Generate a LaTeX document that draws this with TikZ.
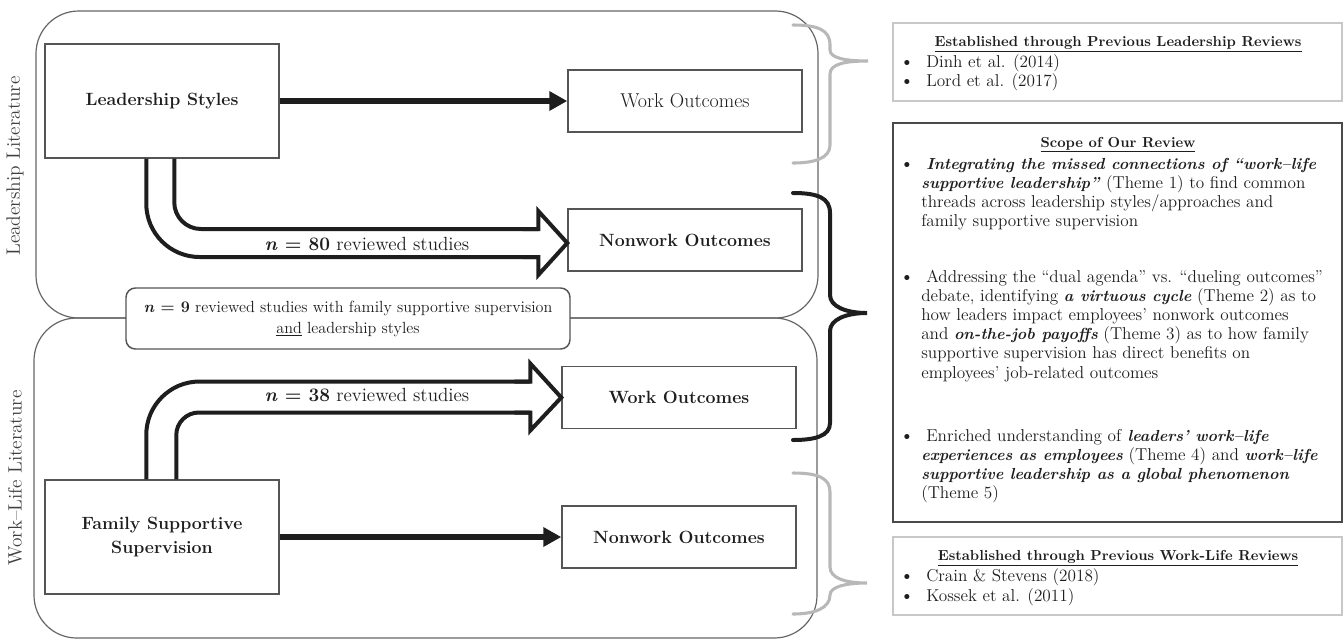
\documentclass[tikz,border=0pt]{standalone}
\usetikzlibrary{arrows.meta,calc}
\definecolor{boxgray}{HTML}{555555}
\definecolor{regiongray}{HTML}{666666}
\definecolor{bracegray}{HTML}{B8B8B8}
\definecolor{lightborder}{HTML}{C8C8C8}
\definecolor{darkborder}{HTML}{4A4A4A}
\definecolor{txt}{HTML}{1E1E1E}
\newcommand{\bfitx}[1]{{\fontsize{12}{14.25}\selectfont\textbf{\textit{#1}}}}
\newcommand{\rtl}[3]{\node[rtext] (#1) at #2 {#3};}
\tikzset{
  region/.style={draw=regiongray, line width=0.9pt, rounded corners=32pt},
  bigbox/.style={draw=boxgray, line width=1.1pt, fill=white, minimum width=175.5pt, minimum height=85.5pt, inner sep=0pt, align=center, text=txt},
  outbox/.style={draw=boxgray, line width=1.1pt, fill=white, minimum width=175.5pt, minimum height=46.5pt, inner sep=0pt, align=center, text=txt},
  regfont/.style={font=\fontsize{15}{18}\selectfont},
  boldfont/.style={font=\fontsize{13.3}{17.5}\selectfont\bfseries},
  midbox/.style={draw=boxgray, line width=1.1pt, fill=white, rounded corners=7pt, minimum width=333pt, minimum height=45.75pt, inner sep=0pt, align=center, text=txt, font=\fontsize{12.1}{15.75}\selectfont},
  sidelabel/.style={rotate=90, inner sep=0pt, text=txt!85, font=\fontsize{14.5}{17}\selectfont},
  thickarrow/.style={line width=5pt, draw=txt, -{Triangle[length=13.5pt,width=14pt]}},
  hollow/.style={line width=3pt, draw=txt, line join=miter},
  nlabel/.style={inner sep=0pt, text=txt, font=\fontsize{14.3}{17}\selectfont},
  gbrace/.style={draw=bracegray, line width=2.3pt, line cap=round},
  bbrace/.style={draw=txt, line width=3pt, line cap=round},
  rbox/.style={minimum width=336.75pt, inner sep=0pt, fill=white},
  rtext/.style={anchor=base west, inner sep=0pt, text=txt, font=\fontsize{12.9}{14.25}\selectfont},
  rtitle/.style={anchor=base, inner sep=0pt, text=txt, font=\fontsize{10.9}{13}\selectfont\bfseries},
  bul/.style={anchor=base, inner sep=0pt, text=txt, font=\fontsize{14}{14.25}\selectfont}
}
\begin{document}
\begin{tikzpicture}[x=0.75pt,y=-0.75pt]
\useasboundingbox (0,0) rectangle (1344,640);

% literature regions
\draw[region] (36,11) rectangle (818,318);
\draw[region] (34,318) rectangle (817,638);

\node[sidelabel] (lablead) at (15,166) {Leadership Literature};
\node[sidelabel] (labwl) at (15,478) {Work–Life Literature};

% boxes
\node[bigbox, boldfont] (ls) at (162,101) {Leadership Styles};
\node[outbox, regfont] (wo1) at (685,101) {Work Outcomes};
\node[outbox, boldfont] (nw1) at (685,240) {Nonwork Outcomes};
\node[bigbox, boldfont] (fss) at (162,537) {Family Supportive\\Supervision};
\node[outbox, boldfont] (wo2) at (679,397.5) {Work Outcomes};
\node[outbox, boldfont] (nw2) at (679,537) {Nonwork Outcomes};

% thick arrows
\draw[thickarrow] (ls) -- (wo1);
\draw[thickarrow] (fss) -- (nw2);

% upper hollow arrow
\coordinate (t1) at ($(nw1.west)+(0,3)$);
\draw[hollow, rounded corners=40pt] ($(ls.south west)+(102,0)$) |- ($(t1)+(-29,14)$);
\draw[hollow, rounded corners=20pt] ($(ls.south west)+(130,0)$) |- ($(t1)+(-29,-14)$);
\draw[hollow] ($(t1)+(-45,14)$) -- ($(t1)+(-29,14)$) -- ($(t1)+(-29,32)$) -- (t1) -- ($(t1)+(-29,-32)$) -- ($(t1)+(-29,-14)$) -- ($(t1)+(-45,-14)$);
\node[nlabel] (n80) at (367,244) {\textbf{\textit{n} = 80} reviewed studies};

% lower hollow arrow
\coordinate (t2) at (wo2.west);
\draw[hollow, rounded corners=40pt] ($(fss.north west)+(102,0)$) |- ($(t2)+(-31,-16)$);
\draw[hollow, rounded corners=17pt] ($(fss.north west)+(132,0)$) |- ($(t2)+(-31,15)$);
\draw[hollow] ($(t2)+(-47,-16)$) -- ($(t2)+(-31,-16)$) -- ($(t2)+(-31,-34)$) -- (t2) -- ($(t2)+(-31,33)$) -- ($(t2)+(-31,15)$) -- ($(t2)+(-47,15)$);
\node[nlabel] (n38) at (367,395) {\textbf{\textit{n} = 38} reviewed studies};

% middle box
\node[midbox] (mid) at (348,318.5) {\textbf{\textit{n} = 9} reviewed studies with family supportive supervision\\\underline{and} leadership styles};

% braces
\draw[gbrace] (793,25) .. controls (818,25) and (830,30) .. (830,45) -- (830,50) .. controls (830,58) and (845,61) .. (868,61) .. controls (845,61) and (830,64) .. (830,74) -- (830,145) .. controls (830,158) and (815,163) .. (793,163);
\draw[bbrace] (793,193) .. controls (818,193) and (830,198) .. (830,213) -- (830,295) .. controls (830,306) and (845,313) .. (867,313) .. controls (845,313) and (830,320) .. (830,331) -- (830,423) .. controls (830,436) and (815,440) .. (793,440);
\draw[gbrace] (793,473) .. controls (818,473) and (830,478) .. (830,492) -- (830,567) .. controls (830,578) and (845,583) .. (867,583) .. controls (845,583) and (830,587) .. (830,595) .. controls (830,608) and (815,614) .. (793,614);

% right boxes
\node[rbox, draw=lightborder, line width=1.3pt, minimum height=58.5pt] (est1) at (1117.5,62) {};
\node[rbox, draw=darkborder, line width=1.6pt, minimum height=299.25pt] (scope) at (1117.5,322.5) {};
\node[rbox, draw=lightborder, line width=1.3pt, minimum height=58.5pt] (est2) at (1117.5,576) {};

% est1 text
\node[rtitle] (t-est1) at (1118,46) {\underline{Established through Previous Leadership Reviews}};
\node[bul] (b11) at (907,67) {\textbullet};
\rtl{e11}{(926,67)}{Dinh et al. (2014)}
\node[bul] (b12) at (907,86) {\textbullet};
\rtl{e12}{(926,86)}{Lord et al. (2017)}

% scope text
\node[rtitle] (t-scope) at (1118,147) {\underline{Scope of Our Review}};
\node[bul] (bs1) at (907,169) {\textbullet};
\rtl{s11}{(926,169)}{\bfitx{Integrating the missed connections of “work–life}}
\rtl{s12}{(921,188)}{\bfitx{supportive leadership”} (Theme 1) to find common}
\rtl{s13}{(921,207)}{threads across leadership styles/approaches and}
\rtl{s14}{(921,226)}{family supportive supervision}

\node[bul] (bs2) at (907,282) {\textbullet};
\rtl{s21}{(926,282)}{Addressing the “dual agenda” vs. “dueling outcomes”}
\rtl{s22}{(921,301)}{debate, identifying \bfitx{a virtuous cycle} (Theme 2) as to}
\rtl{s23}{(921,320)}{how leaders impact employees’ nonwork outcomes}
\rtl{s24}{(921,339)}{and \bfitx{on-the-job payoffs} (Theme 3) as to how family}
\rtl{s25}{(921,358)}{supportive supervision has direct benefits on}
\rtl{s26}{(921,378)}{employees’ job-related outcomes}

\node[bul] (bs3) at (907,441) {\textbullet};
\rtl{s31}{(926,441)}{Enriched understanding of \bfitx{leaders’ work–life}}
\rtl{s32}{(921,460)}{\bfitx{experiences as employees} (Theme 4) and \bfitx{work–life}}
\rtl{s33}{(921,479)}{\bfitx{supportive leadership as a global phenomenon}}
\rtl{s34}{(921,498)}{(Theme 5)}

% est2 text
\node[rtitle] (t-est2) at (1118,560) {\underline{Established through Previous Work-Life Reviews}};
\node[bul] (b21) at (907,581) {\textbullet};
\rtl{e21}{(926,581)}{Crain \& Stevens (2018)}
\node[bul] (b22) at (907,601) {\textbullet};
\rtl{e22}{(926,601)}{Kossek et al. (2011)}
\end{tikzpicture}
\end{document}
